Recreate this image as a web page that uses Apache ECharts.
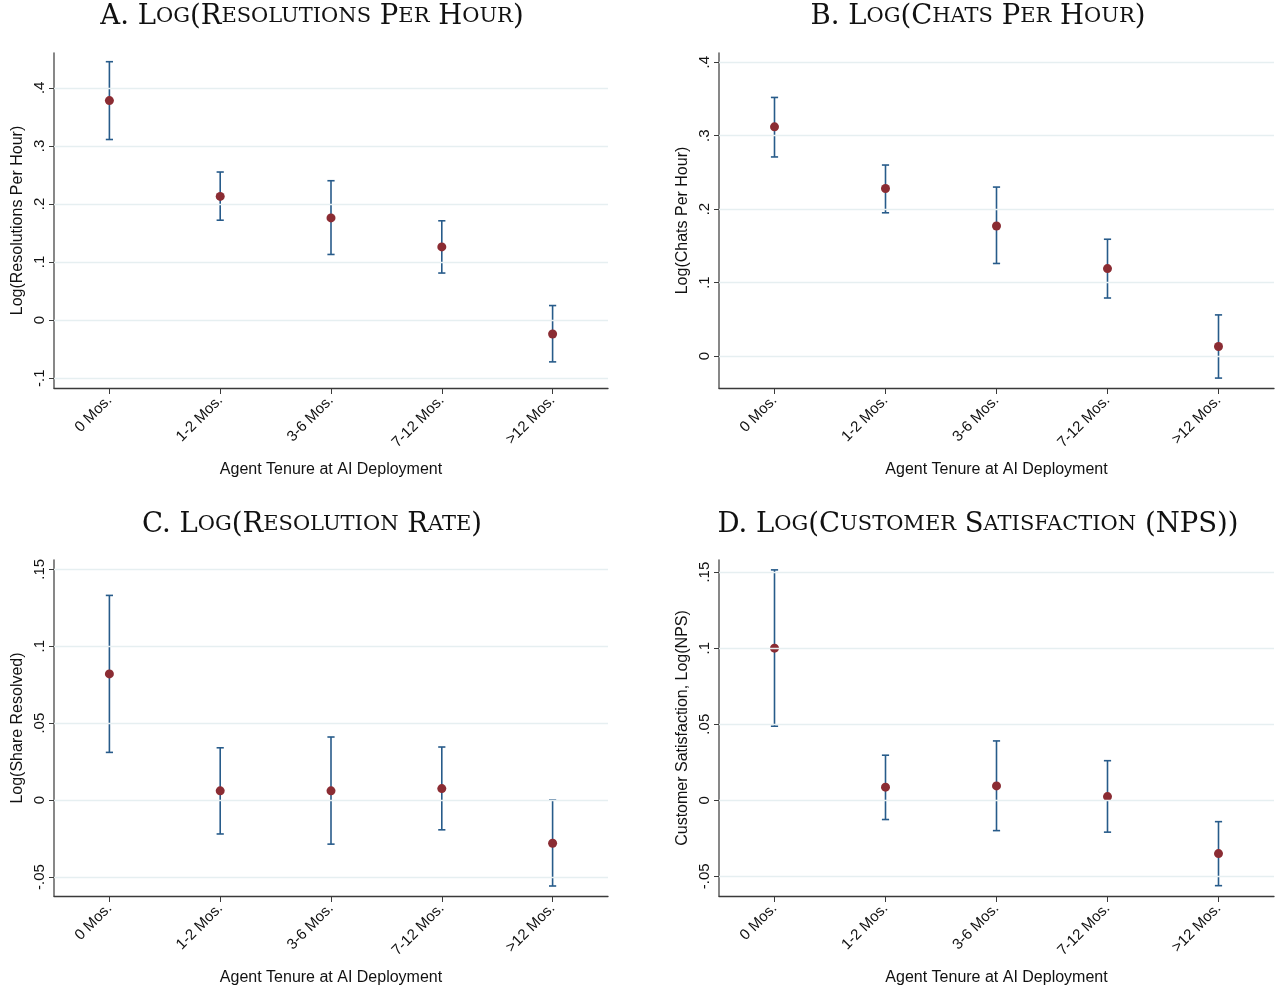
<!DOCTYPE html>
<html>
<head>
<meta charset="utf-8">
<script src="https://cdn.jsdelivr.net/npm/echarts@6/dist/echarts.min.js"></script>
<style>html,body{margin:0;padding:0;background:#fff;}#c{width:1278px;height:992px;}</style>
</head>
<body>
<div id="c"></div>
<script>
const categories = ['0 Mos.', '1-2 Mos.', '3-6 Mos.', '7-12 Mos.', '>12 Mos.'];

const estA  = [0.378, 0.213, 0.176, 0.126, -0.024];
const lowA  = [0.311, 0.172, 0.113, 0.081, -0.072];
const highA = [0.445, 0.255, 0.240, 0.171, 0.025];

const estB  = [0.312, 0.228, 0.177, 0.119, 0.013];
const lowB  = [0.271, 0.195, 0.126, 0.079, -0.030];
const highB = [0.352, 0.260, 0.230, 0.159, 0.056];

const estC  = [0.082, 0.006, 0.006, 0.0075, -0.028];
const lowC  = [0.031, -0.022, -0.0286, -0.0193, -0.0558];
const highC = [0.133, 0.034, 0.041, 0.0345, 0.000];

const estD  = [0.100, 0.0086, 0.0094, 0.0024, -0.0351];
const lowD  = [0.0487, -0.0127, -0.020, -0.021, -0.0562];
const highD = [0.1515, 0.0296, 0.039, 0.026, -0.0141];

const ticksA = [-0.1, 0, 0.1, 0.2, 0.3, 0.4];
const tickLabelsA = ['-.1', '0', '.1', '.2', '.3', '.4'];
const ticksB = [0, 0.1, 0.2, 0.3, 0.4];
const tickLabelsB = ['0', '.1', '.2', '.3', '.4'];
const ticksC = [-0.05, 0, 0.05, 0.1, 0.15];
const tickLabelsC = ['-.05', '0', '.05', '.1', '.15'];
const ticksD = [-0.05, 0, 0.05, 0.1, 0.15];
const tickLabelsD = ['-.05', '0', '.05', '.1', '.15'];

const titles = ['A. Log(Resolutions Per Hour)', 'B. Log(Chats Per Hour)', 'C. Log(Resolution Rate)', 'D. Log(Customer Satisfaction (NPS))'];
const yNames = ['Log(Resolutions Per Hour)', 'Log(Chats Per Hour)', 'Log(Share Resolved)', 'Customer Satisfaction, Log(NPS)'];
const xName = 'Agent Tenure at AI Deployment';

const panels = [
  {est: estA, low: lowA, high: highA, ticks: ticksA, labels: tickLabelsA, min: -0.117, max: 0.460,
   grid: {left: 54, top: 53, width: 554, height: 335}, tx: 307, ty: -2},
  {est: estB, low: lowB, high: highB, ticks: ticksB, labels: tickLabelsB, min: -0.0435, max: 0.4125,
   grid: {left: 719, top: 53, width: 555, height: 335}, tx: 973, ty: -2},
  {est: estC, low: lowC, high: highC, ticks: ticksC, labels: tickLabelsC, min: -0.0623, max: 0.156,
   grid: {left: 54, top: 560, width: 554, height: 336}, tx: 307, ty: 506},
  {est: estD, low: lowD, high: highD, ticks: ticksD, labels: tickLabelsD, min: -0.063, max: 0.158,
   grid: {left: 719, top: 560, width: 555, height: 336}, tx: 973, ty: 506}
];

function smallCaps(str) {
  let out = '';
  let cur = null, buf = '';
  for (const ch of str) {
    const isLower = ch >= 'a' && ch <= 'z';
    const st = isLower ? 's' : 'b';
    const c = isLower ? ch.toUpperCase() : ch;
    if (st !== cur) { if (buf) out += '{' + cur + '|' + buf + '}'; buf = ''; cur = st; }
    buf += c;
  }
  if (buf) out += '{' + cur + '|' + buf + '}';
  return out;
}

const titleFont = 'DejaVu Serif';
const sansFont = 'Liberation Sans, Arial, sans-serif';
const xAxisColor = '#3a3a3a';
const yAxisColor = '#6a6a6a';
const barColor = '#275b8a';
const dotColor = '#8b2c33';
const gridColor = '#e6eff1';

const option = {
  backgroundColor: '#ffffff',
  animation: false,
  title: panels.map((p, i) => ({
    text: smallCaps(titles[i]),
    left: p.tx, top: p.ty, textAlign: 'center',
    textStyle: {
      fontWeight: 'normal',
      rich: {
        b: {fontFamily: titleFont, fontSize: 27.5, fontWeight: 'normal', color: '#111'},
        s: {fontFamily: titleFont, fontSize: 21, fontWeight: 'normal', color: '#111'}
      }
    }
  })),
  grid: panels.map(p => Object.assign({containLabel: false}, p.grid)),
  xAxis: panels.map((p, i) => ({
    type: 'category', gridIndex: i, data: categories, boundaryGap: true,
    name: xName, nameLocation: 'middle', nameGap: 74,
    nameTextStyle: {fontFamily: sansFont, fontSize: 16, color: '#111'},
    axisLine: {show: true, onZero: false, lineStyle: {color: xAxisColor, width: 1.3}},
    axisTick: {show: true, alignWithLabel: true, length: 6, lineStyle: {color: xAxisColor}},
    axisLabel: {rotate: 45, fontFamily: sansFont, fontSize: 15, color: '#111', margin: 10, interval: 0},
    splitLine: {show: false}
  })),
  yAxis: panels.map((p, i) => ({
    type: 'value', gridIndex: i, min: p.min, max: p.max,
    name: yNames[i], nameLocation: 'middle', nameGap: 28,
    nameTextStyle: {fontFamily: sansFont, fontSize: 16, color: '#111'},
    axisLine: {show: true, onZero: false, lineStyle: {color: yAxisColor, width: 1.6}},
    axisTick: {show: true, length: 5, customValues: p.ticks, lineStyle: {color: xAxisColor}},
    axisLabel: {
      show: true, rotate: 90, fontFamily: sansFont, fontSize: 15, color: '#111', margin: 7,
      customValues: p.ticks,
      formatter: v => { const k = p.ticks.findIndex(t => Math.abs(t - v) < 1e-9); return k >= 0 ? p.labels[k] : ''; }
    },
    splitLine: {show: false}
  })),
  series: []
};

panels.forEach((p, i) => {
  option.series.push({
    type: 'line', xAxisIndex: i, yAxisIndex: i, data: [], silent: true, z: 0,
    markLine: {
      silent: true, symbol: ['none', 'none'], label: {show: false},
      lineStyle: {color: gridColor, type: 'solid', width: 1.3},
      data: p.ticks.map(t => ({yAxis: t}))
    }
  });
  option.series.push({
    type: 'custom', xAxisIndex: i, yAxisIndex: i, z: 3,
    data: categories.map((c, k) => [k, p.low[k], p.high[k]]),
    renderItem: (params, api) => {
      const x = api.value(0);
      const a = api.coord([x, api.value(1)]);
      const b = api.coord([x, api.value(2)]);
      const w = 3.6;
      const st = {stroke: barColor, lineWidth: 1.6};
      return {type: 'group', children: [
        {type: 'line', shape: {x1: a[0], y1: a[1], x2: b[0], y2: b[1]}, style: st},
        {type: 'line', shape: {x1: a[0] - w, y1: a[1], x2: a[0] + w, y2: a[1]}, style: st},
        {type: 'line', shape: {x1: b[0] - w, y1: b[1], x2: b[0] + w, y2: b[1]}, style: st}
      ]};
    }
  });
  option.series.push({
    type: 'scatter', xAxisIndex: i, yAxisIndex: i, z: 4,
    data: p.est, symbol: 'circle', symbolSize: 9,
    itemStyle: {color: dotColor, opacity: 1}
  });
});

const chart = echarts.init(document.getElementById('c'), null, {renderer: 'canvas'});
chart.setOption(option);
</script>
</body>
</html>
